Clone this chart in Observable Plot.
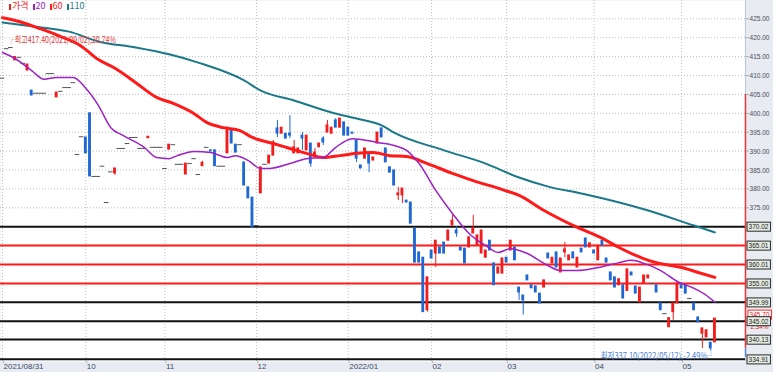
<!DOCTYPE html>
<html><head><meta charset="utf-8">
<script src="https://cdn.jsdelivr.net/npm/d3@7"></script>
<script src="https://cdn.jsdelivr.net/npm/@observablehq/plot@0.6"></script>
<style>
html,body{margin:0;padding:0;background:#fff;}
#wrap{position:relative;width:773px;height:372px;}
#legend{position:absolute;left:9px;top:0px;font:9px "Noto Sans CJK KR",sans-serif;line-height:11px;white-space:nowrap;}
#legend span.m{display:inline-block;width:2px;height:6px;margin-right:1px;vertical-align:-1px;}
#legend span.t{margin-right:4px;}
</style></head><body><div id="wrap"><div id="chart"></div><div id="legend"></div></div>
<script>
// ---- data (trading-day index 0 = 2021/08/31) ----
const openV = [
409.3,417.1,417.4,414.0,414.8,413.2,411.3,406.0,405.3,405.3,
405.3,410.5,410.5,404.2,405.8,406.8,406.8,408.1,389.1,393.8,
393.6,400.0,383.3,383.3,386.0,376.4,384.5,384.1,390.7,390.7,
392.0,393.6,393.6,390.7,390.7,393.4,391.0,391.0,391.0,385.4,
390.4,391.7,386.5,386.5,383.8,386.7,388.0,383.8,386.0,391.0,
390.2,390.2,386.0,386.0,389.4,395.7,391.7,391.7,387.0,380.4,
377.7,370.3,378.8,386.5,386.7,388.8,396.0,394.6,394.6,394.6,
389.4,389.4,394.1,390.2,392.0,388.8,391.0,393.3,394.9,394.6,
398.1,396.2,397.6,396.2,394.9,392.8,386.2,388.0,389.6,387.5,
392.0,396.0,390.7,385.7,384.9,378.3,378.3,376.9,376.4,369.5,
363.2,361.8,347.9,363.7,362.9,364.5,365.8,366.3,370.3,369.0,
364.5,364.2,364.5,368.2,365.0,362.9,361.8,366.3,360.3,357.6,
357.6,361.8,363.7,364.5,353.9,351.8,357.1,354.5,354.2,352.3,
353.9,362.9,360.3,363.2,357.9,363.2,361.1,363.2,359.2,364.2,
366.9,364.5,363.7,361.1,366.3,361.6,357.9,356.6,354.5,354.5,
353.0,357.9,354.2,350.0,355.0,356.3,355.0,354.5,349.7,347.0,
343.4,347.4,349.7,354.5,354.5,351.0,349.7,346.0,341.7,340.7,
339.3,339.4];
const closeV = [
409.3,417.1,417.4,414.9,414.8,413.2,412.9,404.7,405.3,405.3,
405.3,410.5,410.5,405.5,405.8,406.8,406.8,408.1,389.1,393.8,
389.4,383.3,383.3,383.3,386.0,376.4,384.5,385.4,390.7,390.7,
392.0,393.6,393.6,390.7,390.7,393.8,391.0,391.0,391.0,385.4,
391.7,391.7,386.5,386.5,386.7,386.7,388.0,383.8,386.9,391.0,
389.9,386.0,386.0,386.0,396.2,392.0,389.6,391.7,380.9,377.5,
369.8,370.3,385.7,386.5,388.8,392.3,394.6,396.2,393.3,394.1,
391.0,390.7,393.3,394.1,386.7,389.6,392.0,392.3,396.8,396.2,
396.2,398.6,394.1,394.1,394.6,388.0,385.4,390.7,386.7,388.3,
394.9,393.6,387.0,384.3,380.9,378.8,380.1,376.4,370.8,360.5,
360.5,347.4,356.6,361.6,366.3,362.9,362.9,369.0,371.6,368.2,
363.7,360.3,367.2,369.5,367.7,369.0,363.7,363.7,354.5,359.2,
361.6,360.5,366.3,361.1,352.6,350.5,355.8,353.7,352.6,349.7,
355.8,361.6,361.8,359.2,361.6,364.0,362.4,361.6,361.8,363.2,
364.5,365.6,362.9,365.0,365.0,360.5,355.8,353.9,356.1,351.0,
358.7,357.1,352.3,353.9,357.1,357.1,355.0,352.6,347.9,347.0,
345.8,349.7,355.0,353.7,352.3,351.0,347.9,344.7,343.1,342.6,
337.8,345.7];
// wick extremes beyond the body: [day index, price]
const highWicks = [[48,387.3],[65,392.8],[66,398.1],[69,399.4],[70,392.8],[72,394.9],[75,390.7],[77,393.8],[78,398.1],[80,398.6],[95,380.4],[108,373.0],[109,370.0],[113,373.0],[135,365.8]];
const lowWicks = [[27,383.6],[66,393.6],[69,393.3],[72,390.2],[74,385.7],[77,391.5],[85,387.0],[88,384.3],[95,376.9],[96,376.1],[102,347.4],[104,359.2],[109,367.2],[124,350.5],[125,346.6],[135,361.8],[161,345.2],[168,337.8],[170,337.1]];
// moving averages: [day index, price]
const ma20 = [[0,416.1],[3,414.5],[7,411.3],[10,409.0],[13,409.5],[17,409.5],[20,406.6],[23,402.1],[26,396.2],[29,394.1],[34,391.0],[37,388.3],[40,388.0],[42,388.8],[46,389.9],[50,389.6],[54,388.3],[56,388.8],[59,387.5],[62,385.4],[64,385.4],[69,386.7],[73,388.0],[77,388.3],[80,391.0],[84,393.3],[86,393.1],[90,392.3],[94,391.5],[97,390.2],[100,386.7],[104,379.6],[108,373.5],[112,368.2],[116,365.0],[119,363.2],[122,364.2],[126,362.9],[130,360.3],[134,358.4],[138,358.4],[143,359.2],[148,360.5],[151,361.1],[154,360.3],[158,358.4],[162,355.5],[166,353.7],[169,351.8],[171,350.0]];
const ma60 = [[0,425.3],[4,424.3],[9,422.4],[14,420.3],[19,417.7],[23,414.2],[27,411.9],[32,408.1],[37,404.2],[41,402.6],[46,399.9],[49,397.6],[53,396.2],[57,395.4],[60,393.6],[65,392.0],[69,390.7],[73,389.4],[77,388.3],[81,388.8],[85,389.4],[89,389.6],[93,388.8],[97,388.6],[102,386.7],[108,384.1],[113,382.2],[120,379.8],[124,378.3],[130,374.3],[138,369.8],[144,366.9],[148,364.5],[152,362.4],[155,361.1],[159,360.0],[163,359.2],[167,357.9],[171,356.6]];
const ma120 = [[0,424.0],[7,423.0],[16,421.6],[23,419.0],[32,417.4],[40,415.6],[47,413.4],[58,408.7],[62,406.0],[70,403.4],[79,400.2],[85,398.6],[91,396.8],[94,394.9],[106,390.2],[116,386.7],[124,383.0],[131,380.6],[139,378.8],[155,374.3],[166,370.3],[171,368.5]];
const monthTicks = [0,20,39,61,83,103,121,142,163];
const monthLabels = ["2021/08/31","10","11","12","2022/01","02","03","04","05"];
const priceTicks = [425,420,415,410,405,400,395,390,385,380,375];
const levels = [370.02,365.01,360.01,355.00,349.99,345.02,340.13,334.91];
const redLevels = [365.01,360.01,355.00];
const highNote = {i:2, price:417.40, date:"2021/09/02", pct:"20.74%"};
const lowNote = {i:170, price:337.10, date:"2022/05/12", pct:"-2.49%"};
const lastPrice = 345.70, lastChange = "2.34%";
const rangeBar = [405.0, 337.8, 335.5];
const legendItems = ["가격","20","60","110"];

// ---- styles ----
const UP="#f21c1c", DOWN="#1f68d4", FLAT="#555", RED="#ff1a1a", PURPLE="#9b22c4", TEAL="#1b7889";
const xDomain=[-0.48,178.35], yDomain=[334.34,429.84];
const FONT="'Liberation Sans Narrow','Noto Sans CJK KR',sans-serif";
const NUMFONT="'Liberation Sans Narrow','Liberation Sans',sans-serif";

const candles = openV.map((o,i)=>{
  const c = closeV[i];
  const hw = highWicks.find(d=>d[0]===i), lw = lowWicks.find(d=>d[0]===i);
  return {i,o,c,h: hw?hw[1]:Math.max(o,c), l: lw?lw[1]:Math.min(o,c)};
});
const col = d => d.c>d.o?UP:(d.c<d.o?DOWN:FLAT);
const bodies = candles.filter(d=>d.c!==d.o);
const dojis = candles.filter(d=>d.c===d.o);
const wicks = candles.filter(d=>d.h>d.l);
const highText = `┌최고${highNote.price.toFixed(2)}(${highNote.date}),${highNote.pct}`;
const lowText = `최저${lowNote.price.toFixed(2)}(${lowNote.date}),${lowNote.pct}┘`;

const chart = Plot.plot({
  width:773, height:372, marginLeft:0, marginRight:28, marginTop:0, marginBottom:11,
  style:{fontFamily:FONT, fontSize:"9px", background:"#e8ecf2", overflow:"visible"},
  x:{domain:xDomain, axis:null, label:null},
  y:{domain:yDomain, axis:null, label:null},
  marks:[
    Plot.frame({fill:"white", stroke:null}),
    Plot.gridY(priceTicks,{stroke:"#bdbdbd",strokeOpacity:1,strokeDasharray:"1,2"}),
    Plot.gridX(monthTicks,{stroke:"#bdbdbd",strokeOpacity:1,strokeDasharray:"1,2"}),
    Plot.ruleY(levels,{stroke:d=>redLevels.includes(d)?RED:"#111",strokeWidth:2}),
    Plot.ruleX(wicks,{x:"i",y1:"l",y2:"h",stroke:col,strokeWidth:1}),
    Plot.rect(bodies,{x1:d=>d.i-0.34,x2:d=>d.i+0.34,y1:"o",y2:"c",fill:col,insetTop:-0.5,insetBottom:-0.5}),
    Plot.ruleY(dojis,{x1:d=>d.i-0.55,x2:d=>d.i+0.55,y:"c",stroke:FLAT,strokeWidth:1}),
    Plot.line(ma120,{x:d=>d[0],y:d=>d[1],stroke:TEAL,strokeWidth:2,curve:"monotone-x"}),
    Plot.line(ma60,{x:d=>d[0],y:d=>d[1],stroke:RED,strokeWidth:3,curve:"monotone-x"}),
    Plot.line(ma20,{x:d=>d[0],y:d=>d[1],stroke:PURPLE,strokeWidth:1.5,curve:"monotone-x"}),
    Plot.text([highNote],{x:"i",y:"price",text:()=>highText,dx:-3,dy:-7,textAnchor:"start",fill:"#e23a3a",fontSize:9}),
    Plot.text([lowNote],{x:"i",y:"price",text:()=>lowText,dx:4,dy:5,textAnchor:"end",fill:"#4a7fd6",fontSize:9}),
    Plot.ruleX([xDomain[1]],{y1:yDomain[0],y2:yDomain[1],stroke:"#b7c7df"}),
    Plot.ruleX([xDomain[1]],{y1:rangeBar[0],y2:rangeBar[1],stroke:"#ff3030",strokeWidth:1.5}),
    Plot.ruleX([xDomain[1]],{y1:rangeBar[1],y2:rangeBar[2],stroke:"#4a86e0",strokeWidth:1.5}),
    Plot.axisY(priceTicks,{anchor:"right",tickFormat:d=>d.toFixed(2),tickSize:3,tickPadding:1,stroke:"#9fb0c8",fill:"#4a4a58",fontSize:8,fontFamily:NUMFONT,label:null}),
    Plot.axisX(monthTicks,{anchor:"bottom",tickFormat:d=>monthLabels[monthTicks.indexOf(d)],tickSize:2,tickPadding:0,textAnchor:"start",dx:1,stroke:"#aab4c4",fill:"#3c4866",fontSize:8,fontFamily:NUMFONT,label:null}),
    Plot.text([lastPrice],{y:d=>d,frameAnchor:"right",text:d=>d.toFixed(2),dx:4,dy:-4,textAnchor:"start",fill:"#e02020",fontSize:8,fontFamily:NUMFONT}),
    Plot.text([lastPrice],{y:d=>d,frameAnchor:"right",text:()=>lastChange,dx:5,dy:8,textAnchor:"start",fill:"#e02020",fontSize:8,fontFamily:NUMFONT}),
    Plot.text(levels,{y:d=>d,frameAnchor:"right",text:d=>d.toFixed(2),dx:3,textAnchor:"start",fill:"#1a1a1a",fontSize:8,fontFamily:NUMFONT})
  ]
});
document.getElementById("chart").append(chart);

const allText = d3.select(chart).selectAll("text");
const fit = (pred, len) => allText.filter(function(){return pred(this.textContent);})
  .attr("textLength", len).attr("lengthAdjust","spacingAndGlyphs");
fit(t=>/^\d{3}\.\d{2}$/.test(t), 20);
fit(t=>t===lastChange, 18);
fit(t=>t===highText, 108);
fit(t=>t===lowText, 114);

function boxify(labels, fill, stroke){
  allText.filter(function(){return labels.includes(this.textContent);}).each(function(){
    const b = this.getBBox();
    const cy = b.y + b.height/2;
    const r = d3.create("svg:rect").attr("x",b.x-1.5).attr("y",cy-4.5).attr("width",b.width+3).attr("height",9)
        .attr("fill",fill).attr("stroke",stroke).attr("stroke-width",1);
    const tf = this.getAttribute("transform");
    if (tf) r.attr("transform", tf);
    this.parentNode.insertBefore(r.node(), this);
  });
}
boxify([lastPrice.toFixed(2)],"#fff","#ff2a2a");
boxify(levels.map(d=>d.toFixed(2)),"#e4ece2","#2a2a2a");

const lg = d3.select("#legend");
const lgColors = [UP,PURPLE,RED,TEAL];
legendItems.forEach((t,k)=>{
  lg.append("span").attr("class","m").style("background",lgColors[k]);
  lg.append("span").attr("class","t").style("color",lgColors[k]).text(t);
});
</script></body></html>
